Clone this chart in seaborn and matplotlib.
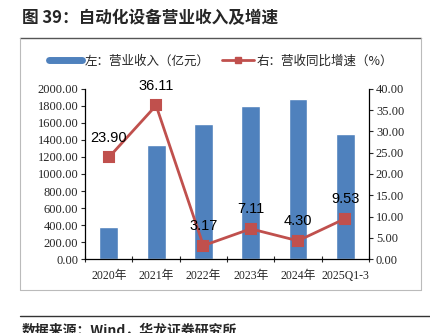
import matplotlib
matplotlib.use("Agg")
import matplotlib.pyplot as plt
import matplotlib.lines as mlines
import seaborn as sns
import pandas as pd
from matplotlib.ticker import FixedLocator, FormatStrFormatter

# Data
categories = ["2020年", "2021年", "2022年", "2023年", "2024年", "2025Q1-3"]
revenue = [380, 1345, 1585, 1800, 1885, 1470]          # 营业收入（亿元）
growth = [23.90, 36.11, 3.17, 7.11, 4.30, 9.53]        # 营收同比增速（%）

df = pd.DataFrame({"period": categories, "revenue": revenue, "growth": growth})

sns.set_theme(style="white")
plt.rcParams["font.family"] = ["Noto Sans CJK SC", "DejaVu Sans"]
plt.rcParams["axes.unicode_minus"] = False

BLUE = "#4F81BD"
RED = "#C0504D"
serif_num = ["Liberation Serif", "Noto Sans CJK SC"]

fig = plt.figure(figsize=(4.30, 3.33), dpi=100)
ax = fig.add_axes([0.198, 0.222, 0.660, 0.511])

sns.barplot(data=df, x="period", y="revenue", color=BLUE, width=0.4,
            saturation=1, ax=ax, zorder=2)
ax.set_xlim(-0.5, 5.5)
ax.set_ylim(0, 2000)
ax.yaxis.set_major_locator(FixedLocator(range(0, 2001, 200)))
ax.yaxis.set_major_formatter(FormatStrFormatter("%.2f"))
ax.set_xlabel("")
ax.set_ylabel("")

ax2 = ax.twinx()
sns.pointplot(data=df, x="period", y="growth", color=RED, markers="s",
              linestyles="-", ax=ax2, markersize=6.5, linewidth=2)
ax2.set_xlim(-0.5, 5.5)
ax2.set_ylim(0, 40)
ax2.yaxis.set_major_locator(FixedLocator(range(0, 41, 5)))
ax2.yaxis.set_major_formatter(FormatStrFormatter("%.2f"))
ax2.set_ylabel("")
ax2.set_xlabel("")

for i, v in enumerate(growth):
    ax2.annotate(f"{v:.2f}", (i, v), xytext=(0, 9), textcoords="offset points",
                 ha="center", va="bottom", fontsize=10.5,
                 family=["Liberation Sans", "DejaVu Sans"], color="black")

# Spines and ticks
for a in (ax, ax2):
    a.spines["top"].set_visible(False)
    for s in ("left", "right", "bottom"):
        a.spines[s].set_color("black")
        a.spines[s].set_linewidth(0.9)
ax.spines["right"].set_visible(False)
ax2.spines["left"].set_visible(False)
ax2.spines["bottom"].set_visible(False)

ax.tick_params(axis="y", left=True, direction="out", length=3, width=0.8,
               labelsize=9, pad=2)
ax2.tick_params(axis="y", right=True, direction="out", length=3, width=0.8,
                labelsize=9, pad=2)
ax.tick_params(axis="x", bottom=False, labelsize=8.5, pad=2)
ax.set_xticks(range(len(categories)))
ax.set_xticks([i + 0.5 for i in range(-1, len(categories))], minor=True)
ax.tick_params(axis="x", which="minor", bottom=True, direction="inout",
               length=5, width=0.8)
for lbl in ax.get_yticklabels() + ax2.get_yticklabels() + ax.get_xticklabels():
    lbl.set_family(serif_num)

# Legend
bar_handle = mlines.Line2D([], [], color=BLUE, linewidth=5)
line_handle = mlines.Line2D([], [], color=RED, linewidth=2, marker="s",
                            markersize=5)
fig.legend([bar_handle, line_handle],
           ["左：营业收入（亿元）", "右：营收同比增速（%）"],
           loc="center", bbox_to_anchor=(0.515, 0.817), ncol=2, frameon=False,
           handlelength=2.6, handletextpad=0.2, columnspacing=1.0,
           prop={"family": ["Noto Sans CJK SC", "DejaVu Sans"], "size": 9})

# Title and frame
fig.text(0.05, 0.945, "图 39：自动化设备营业收入及增速", fontsize=12,
         fontweight="bold", ha="left", va="center",
         family=["Noto Sans CJK SC", "DejaVu Sans"])

W, H = 430, 333
def fx(x): return x / W
def fy(y): return 1 - y / H

fig.add_artist(mlines.Line2D([fx(20), fx(421)], [fy(38), fy(38)],
                             color="#555555", linewidth=1.0))
fig.add_artist(mlines.Line2D([fx(20), fx(20)], [fy(38), fy(290)],
                             color="#BBBBBB", linewidth=0.8))
fig.add_artist(mlines.Line2D([fx(421), fx(421)], [fy(38), fy(290)],
                             color="#BBBBBB", linewidth=0.8))
fig.add_artist(mlines.Line2D([fx(20), fx(421)], [fy(290), fy(290)],
                             color="#BBBBBB", linewidth=0.8))
fig.add_artist(mlines.Line2D([fx(20), fx(430)], [fy(316), fy(316)],
                             color="#333333", linewidth=1.0))

fig.text(fx(22), fy(324), "数据来源：Wind，华龙证券研究所", fontsize=10,
         fontweight="bold", ha="left", va="top",
         family=["Noto Sans CJK SC", "DejaVu Sans"])

fig.savefig("out.png", dpi=100)
